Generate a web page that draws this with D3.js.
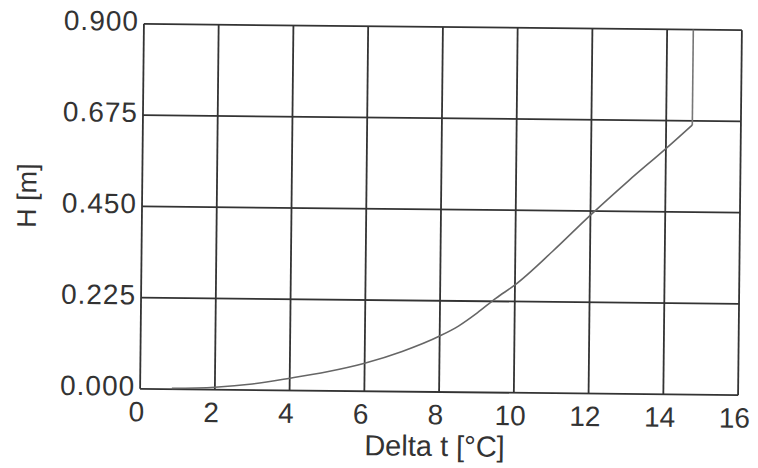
<!DOCTYPE html>
<html><head><meta charset="utf-8">
<script src="https://cdn.jsdelivr.net/npm/d3@7"></script>
<style>body{margin:0;background:#fff}svg{display:block}</style>
</head><body>
<svg id="c" width="758" height="468"></svg>
<script>
const xTicks = [0,2,4,6,8,10,12,14,16];
const yTicks = [0.000,0.225,0.450,0.675,0.900];
const deltaT = [0.85,2,3,4,5,6,7,8,8.5,9,9.5,10,11,12,13,14,14.7,14.7];
const H      = [0.002,0.006,0.015,0.030,0.047,0.069,0.099,0.138,0.163,0.196,0.233,0.266,0.35,0.44,0.525,0.606,0.665,0.9];

const svg = d3.select("#c");
const L=142, R=740, T=27, B=392;
const g = svg.append("g").attr("transform","rotate(0.6,441,209.5)");
const x = d3.scaleLinear().domain([0,16]).range([L,R]);
const y = d3.scaleLinear().domain([0,0.9]).range([B,T]);
const font = "'Liberation Sans', Arial, sans-serif";

// grid
g.append("g").selectAll("line").data(xTicks).join("line")
  .attr("x1",d=>x(d)).attr("x2",d=>x(d)).attr("y1",T).attr("y2",B)
  .attr("stroke","#333").attr("stroke-width",1.8);
g.append("g").selectAll("line").data(yTicks).join("line")
  .attr("x1",L).attr("x2",R).attr("y1",d=>y(d)).attr("y2",d=>y(d))
  .attr("stroke","#333").attr("stroke-width",1.8);

// data line: smooth curve then final vertical segment
const pts = deltaT.map((d,i)=>[d,H[i]]);
const curvePts = pts.slice(0, pts.length-1);
const vertPts = pts.slice(pts.length-2);
g.append("path").datum(curvePts)
  .attr("d", d3.line().curve(d3.curveMonotoneX).x(d=>x(d[0])).y(d=>y(d[1])))
  .attr("fill","none").attr("stroke","#666").attr("stroke-width",1.6);
g.append("path").datum(vertPts)
  .attr("d", d3.line().x(d=>x(d[0])).y(d=>y(d[1])))
  .attr("fill","none").attr("stroke","#777").attr("stroke-width",1.6);

// axes labels via d3 axis
const xa = g.append("g").attr("transform",`translate(-4,${B})`)
  .call(d3.axisBottom(x).tickValues(xTicks).tickSize(0).tickPadding(14).tickFormat(d3.format("d")));
const ya = g.append("g").attr("transform",`translate(${L},-2)`)
  .call(d3.axisLeft(y).tickValues(yTicks).tickSize(0).tickPadding(5).tickFormat(d3.format(".3f")));
[xa,ya].forEach(a=>{
  a.select(".domain").remove();
  a.selectAll("text").attr("font-family",font).attr("font-size",28).attr("fill","#333");
});
ya.selectAll("text").attr("dy","0.3em").attr("letter-spacing","1");
xa.selectAll("text").attr("dy","0.66em");

g.append("text").attr("x",437).attr("y",456).attr("text-anchor","middle")
  .attr("font-family",font).attr("font-size",29).attr("fill","#333").text("Delta t [°C]");
g.append("text").attr("transform","translate(36,200) rotate(-90)").attr("text-anchor","middle")
  .attr("font-family",font).attr("font-size",27).attr("fill","#333").text("H [m]");
</script>
</body></html>
